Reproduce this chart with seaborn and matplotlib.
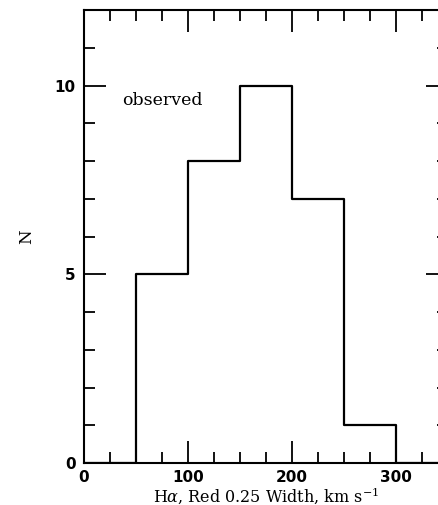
import numpy as np
import pandas as pd
import matplotlib
matplotlib.use("Agg")
import matplotlib.pyplot as plt
from matplotlib.ticker import MultipleLocator
import seaborn as sns

# H-alpha red 0.25 widths (km/s): histogram bin edges and counts
bin_edges = [50, 100, 150, 200, 250, 300]
counts = [5, 8, 10, 7, 1]

x_label = r"H$\alpha$, Red 0.25 Width, km s$^{-1}$"
y_label = "N"
panel_text = "observed"

sns.set_style("ticks")
plt.rcParams["mathtext.fontset"] = "dejavuserif"
plt.rcParams["text.color"] = "black"
plt.rcParams["axes.labelcolor"] = "black"
plt.rcParams["xtick.color"] = "black"
plt.rcParams["ytick.color"] = "black"

# pad with empty bins so the outline closes down to the baseline
edges = [bin_edges[0] - 50] + bin_edges + [bin_edges[-1] + 50]
weights = [0] + counts + [0]
centers = [(a + b) / 2 for a, b in zip(edges[:-1], edges[1:])]
df = pd.DataFrame({"width": centers, "n": weights})

fig = plt.figure(figsize=(4.38, 5.05), dpi=100)
ax = fig.add_axes([84 / 438, 1 - 463 / 505, 364 / 438, 453 / 505])

sns.histplot(data=df, x="width", weights="n", bins=edges, element="step",
             fill=False, color="black", linewidth=1.6, ax=ax)

ax.set_xlim(0, 350)
ax.set_ylim(0, 12)
ax.xaxis.set_major_locator(MultipleLocator(100))
ax.xaxis.set_minor_locator(MultipleLocator(25))
ax.yaxis.set_major_locator(MultipleLocator(5))
ax.yaxis.set_minor_locator(MultipleLocator(1))
ax.tick_params(which="both", direction="in", top=True, right=True,
               color="black", width=1.3)
ax.tick_params(which="major", length=16, labelsize=11, labelcolor="black")
ax.tick_params(axis="x", which="major", pad=5)
ax.tick_params(axis="y", which="major", pad=6)
ax.tick_params(which="minor", length=8)
for lab in ax.get_xticklabels() + ax.get_yticklabels():
    lab.set_fontfamily("DejaVu Sans")
    lab.set_fontweight("bold")
for sp in ax.spines.values():
    sp.set_linewidth(1.5)
    sp.set_color("black")

ax.set_xlabel(x_label, fontfamily="DejaVu Serif", fontsize=11.5,
              labelpad=0, color="black")
ax.set_ylabel(y_label, fontfamily="DejaVu Serif", fontsize=12,
              labelpad=14, color="black")
ax.text(0.105, 0.801, panel_text, transform=ax.transAxes,
        fontfamily="DejaVu Serif", fontsize=12.5, ha="left", va="center",
        color="black")

fig.savefig("out.png", dpi=100)
